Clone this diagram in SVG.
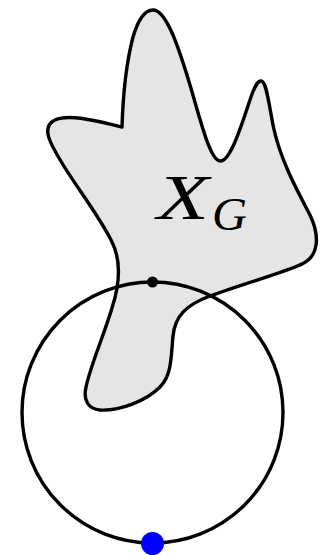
<svg xmlns="http://www.w3.org/2000/svg" width="324" height="555" viewBox="0 0 324 555">
<style>
.ln{fill:none;stroke:#000;stroke-width:3.4;stroke-linejoin:round}
.math{font-family:"Liberation Serif","DejaVu Serif",serif;font-style:italic;fill:#000}
</style>
<rect width="324" height="555" fill="#fff"/>
<g id="XG">
<path class="ln" style="fill:#e5e5e5" d="M153,10 C166,10 178,45 190,85 C201,122 210,160 220,161 C231,162 243,120 252,94 C256,84 258,81 261,81 C266,81 268,98 273,125 C280,160 298,192 310,215 C320,236 319,256 302,264 C283,273 245,283 210,296 C186,305 175,316 173,336 C171,356 172,375 160,387 C146,401 120,411 100,410 C88,409 83,400 86,387 C91,364 104,335 112,308 C121,280 120,258 112,242 C100,217 75,185 62,163 C51,145 40,127 55,120 C70,113 100,122 122,127 C123,95 127,60 133,37 C138,20 145,10 153,10 Z"/>
<text class="math" x="157" y="219" font-size="64" textLength="52" lengthAdjust="spacingAndGlyphs">X</text>
<text class="math" x="212" y="230" font-size="47" textLength="35" lengthAdjust="spacingAndGlyphs">G</text>
</g>
<g id="circle">
<circle class="ln" cx="152.5" cy="412.5" r="130.5"/>
</g>
<g id="dot-top"><circle cx="152.5" cy="282" r="5.5" fill="#000"/></g>
<g id="dot-bottom"><circle cx="152.5" cy="543.5" r="11.5" fill="#0000ff"/></g>
</svg>
